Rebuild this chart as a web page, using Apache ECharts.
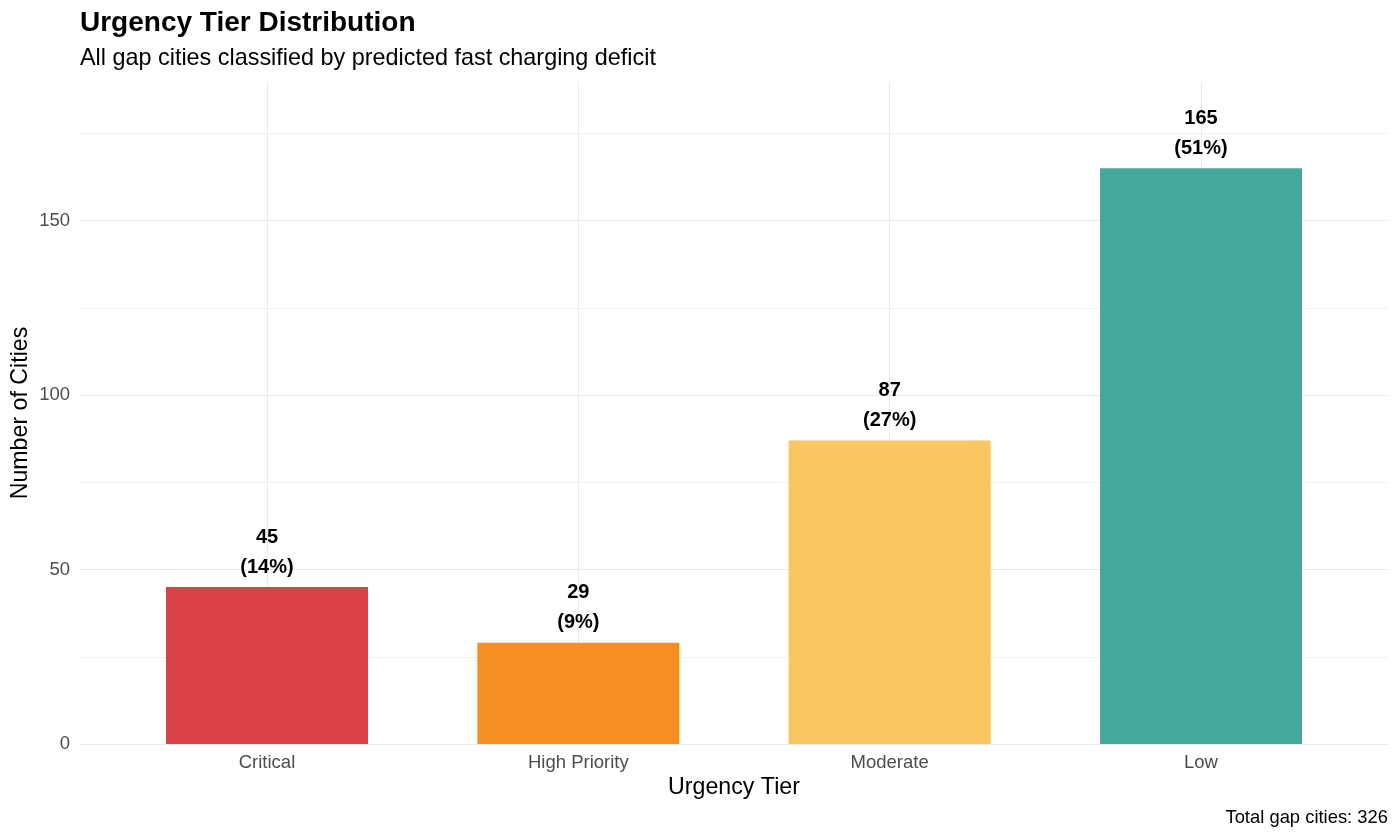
<!DOCTYPE html>
<html>
<head>
<meta charset="utf-8">
<title>Urgency Tier Distribution</title>
<script src="https://cdn.jsdelivr.net/npm/echarts@6/dist/echarts.min.js"></script>
<style>
  html, body { margin: 0; padding: 0; background: #fff; }
  #main { width: 1400px; height: 840px; }
</style>
</head>
<body>
<div id="main"></div>
<script>
var chartDom = document.getElementById('main');
var myChart = echarts.init(chartDom);

// data
var categories = ['Critical', 'High Priority', 'Moderate', 'Low'];
var cityCounts = [45, 29, 87, 165];
var tierColors = ['#DB4245', '#F68F21', '#F9C660', '#45A89A'];

var total = cityCounts.reduce(function (a, b) { return a + b; }, 0);
var yMax = 165 * 1.15;
var font = '"Liberation Sans", Arial, Helvetica, sans-serif';

var barData = cityCounts.map(function (v, i) {
  return { value: v, itemStyle: { color: tierColors[i] } };
});

var option = {
  backgroundColor: '#ffffff',
  animation: false,
  textStyle: { fontFamily: font },
  title: [
    {
      text: 'Urgency Tier Distribution',
      left: 80,
      top: 8,
      padding: 0,
      textStyle: { fontFamily: font, fontSize: 28, fontWeight: 'bold', color: '#000', lineHeight: 30 }
    },
    {
      text: 'All gap cities classified by predicted fast charging deficit',
      left: 80,
      top: 46,
      padding: 0,
      textStyle: { fontFamily: font, fontSize: 23.4, fontWeight: 'normal', color: '#000', lineHeight: 26 }
    }
  ],
  grid: [
    // full panel, carries the horizontal grid lines
    { left: 80, right: 12, top: 82, bottom: 96 },
    // category centres
    { left: 267, right: 199, top: 82, bottom: 96 }
  ],
  xAxis: [
    { type: 'value', gridIndex: 0, min: 0, max: 1, show: false },
    {
      type: 'category',
      gridIndex: 1,
      data: categories,
      boundaryGap: false,
      axisLine: { show: false },
      axisTick: { show: false },
      axisLabel: { fontSize: 18.5, color: '#4D4D4D', margin: 9, interval: 0, fontFamily: font },
      splitLine: { show: true, interval: 0, lineStyle: { color: '#EBEBEB', width: 1 } }
    }
  ],
  yAxis: [
    {
      type: 'value',
      gridIndex: 0,
      min: 0,
      max: yMax,
      interval: 50,
      axisLine: { show: false },
      axisTick: { show: false },
      axisLabel: { fontSize: 18.5, color: '#4D4D4D', margin: 10, showMaxLabel: false, fontFamily: font },
      splitLine: { show: true, showMaxLine: false, lineStyle: { color: '#EBEBEB', width: 1 } },
      minorTick: { show: false, splitNumber: 2 },
      minorSplitLine: { show: true, lineStyle: { color: '#F2F2F2', width: 1 } }
    },
    { type: 'value', gridIndex: 1, min: 0, max: yMax, show: false }
  ],
  series: [
    {
      type: 'bar',
      xAxisIndex: 1,
      yAxisIndex: 1,
      data: barData,
      barWidth: 202,
      clip: false,
      label: {
        show: true,
        position: 'top',
        distance: 5,
        fontFamily: font,
        fontSize: 20,
        fontWeight: 'bold',
        lineHeight: 30,
        color: '#000',
        formatter: function (p) {
          return p.value + '\n(' + Math.round(p.value / total * 100) + '%)';
        }
      }
    }
  ],
  graphic: [
    {
      type: 'text',
      x: 20.5,
      y: 413,
      rotation: Math.PI / 2,
      style: {
        text: 'Number of Cities',
        font: '23.2px ' + font,
        fill: '#000',
        align: 'center',
        verticalAlign: 'middle'
      }
    },
    {
      type: 'text',
      x: 734,
      y: 788,
      style: {
        text: 'Urgency Tier',
        font: '23.2px ' + font,
        fill: '#000',
        align: 'center',
        verticalAlign: 'middle'
      }
    },
    {
      type: 'text',
      x: 1388,
      y: 818,
      style: {
        text: 'Total gap cities: ' + total,
        font: '18.4px ' + font,
        fill: '#000',
        align: 'right',
        verticalAlign: 'middle'
      }
    }
  ]
};

option && myChart.setOption(option);
</script>
</body>
</html>
